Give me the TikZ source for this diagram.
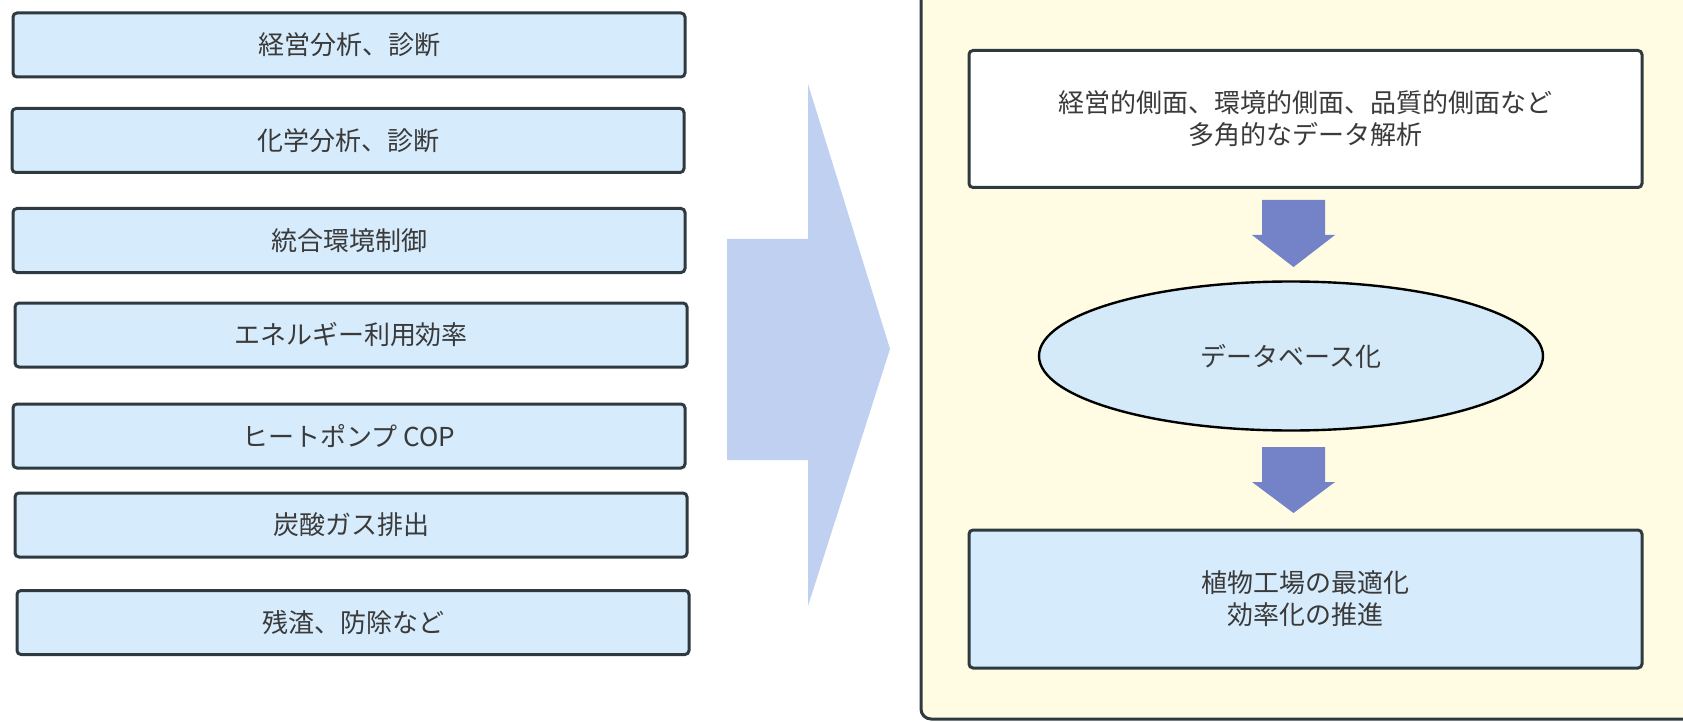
\documentclass[tikz,border=0pt]{standalone}
\usepackage{fontspec}
\setmainfont{Noto Sans CJK JP}
\usetikzlibrary{shapes.geometric}
\definecolor{boxfill}{HTML}{D6EBFB}
\definecolor{boxline}{HTML}{2F3A40}
\definecolor{panelfill}{HTML}{FFFCE3}
\definecolor{bigarrow}{HTML}{BFD0F0}
\definecolor{smallarrow}{HTML}{7482C8}
\definecolor{ellfill}{HTML}{D4EAF9}
\definecolor{txt}{HTML}{3A3A3A}
\tikzset{
  item/.style={draw=boxline, line width=1.5pt, fill=boxfill, rounded corners=2pt,
    minimum width=336pt, minimum height=32pt, inner sep=0pt, text=txt,
    font=\fontsize{13}{15}\selectfont},
  bigbox/.style={draw=boxline, line width=1.5pt, rounded corners=2pt,
    minimum width=336.5pt, minimum height=68.5pt, inner sep=0pt, text=txt,
    align=center, font=\fontsize{13}{16}\selectfont},
  dbell/.style={ellipse, draw=black, line width=1.2pt, fill=ellfill,
    minimum width=252pt, minimum height=74.5pt, inner sep=0pt, text=txt,
    font=\fontsize{13}{15}\selectfont},
  blockarrow/.style={fill=smallarrow, draw=none},
}
\begin{document}
\begin{tikzpicture}[x=0.5pt, y=-0.5pt]
\useasboundingbox (0,0) rectangle (1683,722);
\clip (0,0) rectangle (1683,722);
\fill[white] (0,0) rectangle (1683,722);
% right panel
\draw[fill=panelfill, draw=boxline, line width=1.5pt, rounded corners=5pt] (921,-40) rectangle (1740,719);
% left items
\node[item] (i1) at (349,45) {経営分析、診断};
\node[item] (i2) at (348,140.5) {化学分析、診断};
\node[item] (i3) at (349,240.5) {統合環境制御};
\node[item] (i4) at (351,335) {エネルギー利用効率};
\node[item] (i5) at (349,436) {ヒートポンプ COP};
\node[item] (i6) at (351,525) {炭酸ガス排出};
\node[item] (i7) at (353,622.5) {残渣、防除など};
% big arrow
\fill[bigarrow] (727,239) -- (808,239) -- (808,84) -- (890,349) -- (808,606) -- (808,460) -- (727,460) -- cycle;
% right content
\node[bigbox, fill=white] (top) at (1305.5,119) {経営的側面、環境的側面、品質的側面など\\多角的なデータ解析};
\node[dbell] (db) at (1291,356) {データベース化};
\node[bigbox, fill=boxfill, minimum height=69pt] (bot) at (1305.5,599) {植物工場の最適化\\効率化の推進};
% small block arrows
\fill[blockarrow] (1262,200) -- (1325,200) -- (1325,235) -- (1335,235) -- (1293.5,267) -- (1252,235) -- (1262,235) -- cycle;
\fill[blockarrow] (1262,447) -- (1325,447) -- (1325,482) -- (1335,482) -- (1293.5,513) -- (1252,482) -- (1262,482) -- cycle;
\end{tikzpicture}
\end{document}
